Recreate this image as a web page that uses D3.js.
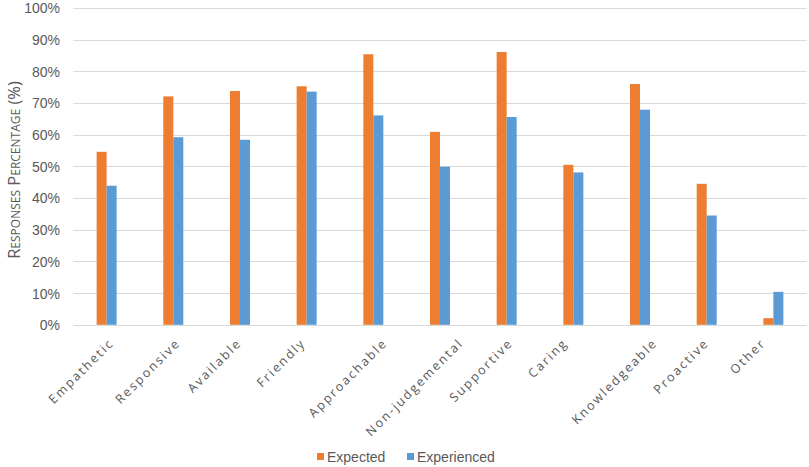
<!DOCTYPE html>
<html>
<head>
<meta charset="utf-8">
<script src="https://cdn.jsdelivr.net/npm/d3@7"></script>
<style>
  html, body { margin: 0; padding: 0; background: #ffffff; }
  svg { display: block; }
</style>
</head>
<body>
<svg id="chart" width="809" height="467"></svg>
<script>
const categories = ["Empathetic", "Responsive", "Available", "Friendly", "Approachable", "Non-judgemental", "Supportive", "Caring", "Knowledgeable", "Proactive", "Other"];
const expected = [54.6, 72.1, 73.8, 75.3, 85.4, 60.9, 86.1, 50.5, 76.0, 44.5, 2.1];
const experienced = [43.9, 59.2, 58.4, 73.6, 66.1, 49.9, 65.6, 48.1, 67.9, 34.5, 10.4];
const seriesNames = ["Expected", "Experienced"];
const yTicks = [0, 10, 20, 30, 40, 50, 60, 70, 80, 90, 100];
const yTitle = "Responses Percentage (%)";

const colors = { Expected: "#ED7D31", Experienced: "#5B9BD5" };
const textColor = "#595959";
const gridColor = "#D9D9D9";

const svg = d3.select("#chart");
const plotL = 73.3, plotR = 806.7, plotT = 8, plotB = 324.8;

const x = d3.scaleBand().domain(categories).range([plotL, plotR]).paddingInner(0).paddingOuter(0);
const y = d3.scaleLinear().domain([0, 100]).range([plotB, plotT]);
const barW = x.bandwidth() * 0.15;

// gridlines
svg.append("g").selectAll("line").data(yTicks).join("line")
  .attr("x1", plotL).attr("x2", plotR)
  .attr("y1", d => Math.round(y(d)) + 0.5).attr("y2", d => Math.round(y(d)) + 0.5)
  .attr("stroke", gridColor).attr("stroke-width", 1);

// y axis labels
const yAxis = d3.axisLeft(y).tickValues(yTicks).tickFormat(d => d + "%").tickSize(0).tickPadding(0);
const yg = svg.append("g").attr("transform", `translate(60,0)`).call(yAxis);
yg.select(".domain").remove();
yg.selectAll("text").attr("fill", textColor).attr("font-family", "Liberation Sans, Arial, sans-serif").attr("font-size", 14).attr("dy", "0.35em");

// bars
const data = categories.map((c, i) => ({ c, Expected: expected[i], Experienced: experienced[i] }));
const groups = svg.append("g").selectAll("g").data(data).join("g")
  .attr("transform", d => `translate(${x(d.c) + x.bandwidth() / 2},0)`);
seriesNames.forEach((s, si) => {
  groups.append("rect")
    .attr("x", si === 0 ? -barW : 0)
    .attr("width", barW)
    .attr("y", d => y(d[s]))
    .attr("height", d => y(0) - y(d[s]))
    .attr("fill", colors[s]);
});

// x labels: rotated -45°, label box centred a bit left of the category, top aligned under the axis
const xl = svg.append("g").selectAll("text").data(categories).join("text")
  .attr("text-anchor", "end")
  .attr("fill", textColor)
  .attr("font-family", "Open Sans, sans-serif")
  .attr("font-size", 12.5)
  .attr("letter-spacing", "2px")
  .text(d => d);
xl.each(function(d) {
  const L = this.getComputedTextLength();
  const cx = x(d) + x.bandwidth() / 2;
  const ex = cx - 22.5 + 0.354 * L;
  d3.select(this).attr("transform", `translate(${ex},${plotB + 19}) rotate(-45)`);
});

// y title
svg.append("text")
  .attr("transform", `translate(20,170) rotate(-90)`)
  .attr("text-anchor", "middle")
  .attr("fill", textColor)
  .attr("font-family", "Open Sans, sans-serif")
  .attr("font-size", 16.5)
  .attr("font-variant", "small-caps")
  .text(yTitle);

// legend
const legend = svg.append("g");
const legendItems = [{ name: "Expected", x: 317 }, { name: "Experienced", x: 407 }];
legendItems.forEach(it => {
  legend.append("rect").attr("x", it.x).attr("y", 453).attr("width", 7).attr("height", 7).attr("fill", colors[it.name]);
  legend.append("text").attr("x", it.x + 10).attr("y", 461.5)
    .attr("fill", textColor).attr("font-family", "Liberation Sans, Arial, sans-serif").attr("font-size", 14)
    .text(it.name);
});
</script>
</body>
</html>
